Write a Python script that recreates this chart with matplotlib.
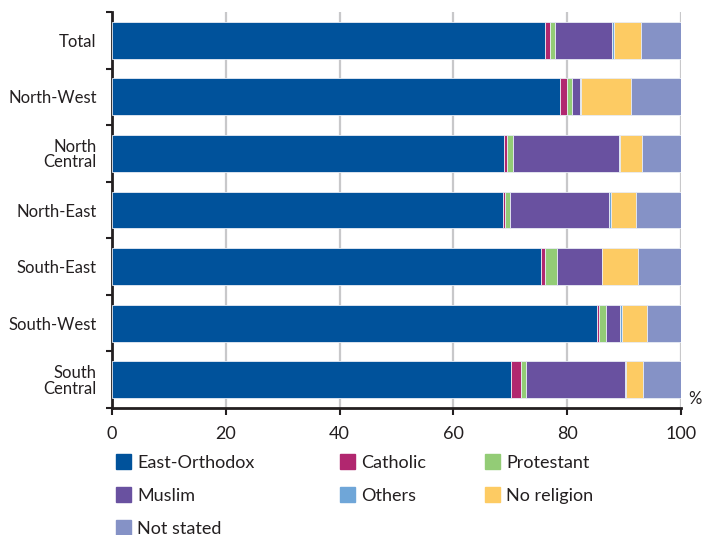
import numpy as np
import matplotlib
matplotlib.use("Agg")
from matplotlib import pyplot as plt
from matplotlib.patches import Rectangle

# Data (percent of population by religion)
regions = ["Total", "North-West", "North\nCentral", "North-East",
           "South-East", "South-West", "South\nCentral"]
religions = ["East-Orthodox", "Catholic", "Protestant", "Muslim",
             "Others", "No religion", "Not stated"]

east_orthodox = [76.1, 78.7, 68.9, 68.7, 75.4, 85.2, 70.1]
catholic      = [0.8, 1.2, 0.6, 0.4, 0.7, 0.4, 1.8]
protestant    = [0.9, 0.9, 1.0, 0.8, 2.1, 1.2, 0.9]
muslim        = [10.1, 1.4, 18.6, 17.4, 7.9, 2.5, 17.4]
others        = [0.3, 0.2, 0.1, 0.4, 0.1, 0.3, 0.1]
no_religion   = [4.8, 8.8, 4.0, 4.4, 6.2, 4.5, 3.0]
not_stated    = [7.0, 8.8, 6.8, 7.9, 7.6, 5.9, 6.7]

colors = ["#00529b", "#b1276f", "#93cc76", "#6951a0",
          "#6fa6d8", "#fdcb63", "#8592c6"]

series = [east_orthodox, catholic, protestant, muslim, others,
          no_religion, not_stated]

FONT = ["Lato", "DejaVu Sans"]
plt.rcParams["font.family"] = FONT
plt.rcParams["font.size"] = 13
TEXT_COLOR = "#231f20"

fig = plt.figure(figsize=(7.03, 5.35), dpi=100)
ax = fig.add_axes([112/703, 1 - 408/535, (681 - 112)/703, (408 - 12)/535])

y = np.arange(len(regions))
left = np.zeros(len(regions))
for vals, col, name in zip(series, colors, religions):
    ax.barh(y, vals, left=left, height=0.65, color=col,
            edgecolor="#e8ecf4", linewidth=0.6, label=name, zorder=3)
    left += np.array(vals)

ax.set_xlim(0, 100)
ax.set_ylim(len(regions) - 0.5, -0.5)

# grid
ax.set_xticks([0, 20, 40, 60, 80, 100])
for gx in [20, 40, 60, 80, 100]:
    ax.axvline(gx, color="#c8c8ca", linewidth=1.6, zorder=1)

ax.set_yticks(y)
ax.set_yticklabels(regions, color=TEXT_COLOR, linespacing=0.95, fontsize=12)
ax.set_yticks(np.arange(-0.5, len(regions)), minor=True)
ax.tick_params(axis="y", which="major", length=0, pad=11)
ax.tick_params(axis="y", which="minor", length=4, width=1.5,
               color="#231f20", direction="out")
ax.tick_params(axis="x", length=5, width=1.5, color="#231f20",
               labelcolor=TEXT_COLOR, pad=8)

for side in ["top", "right"]:
    ax.spines[side].set_visible(False)
for side in ["left", "bottom"]:
    ax.spines[side].set_linewidth(2)
    ax.spines[side].set_color("#231f20")

fig.text(688/703, 1 - 407/535, "%", color=TEXT_COLOR, fontsize=12,
         ha="left", va="bottom")

# manual legend, three columns
col_x = [116, 340, 485]
row_y = [461.5, 494.5, 527]
sq = 15
for i, (name, col) in enumerate(zip(religions, colors)):
    cx = col_x[i % 3]
    cy = row_y[i // 3]
    fig.patches.append(Rectangle((cx/703, 1 - (cy + sq/2)/535), sq/703, sq/535,
                                 transform=fig.transFigure, color=col,
                                 figure=fig))
    fig.text((cx + sq + 6)/703, 1 - cy/535, name, color=TEXT_COLOR,
             ha="left", va="center_baseline")

fig.savefig("out.png", dpi=100)
